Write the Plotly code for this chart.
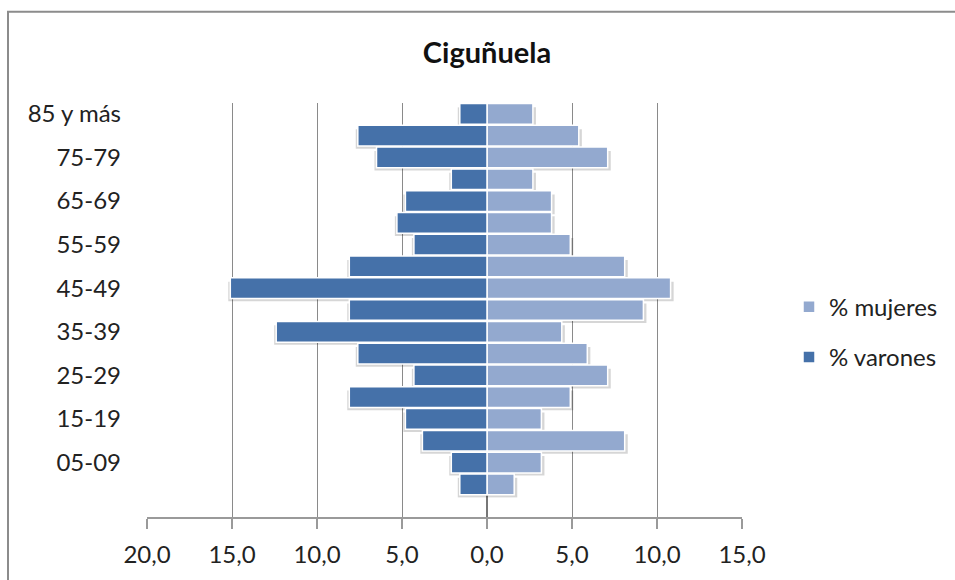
import plotly.graph_objects as go

# Age groups from youngest to oldest (first slot is blank in the source chart)
age_groups = ["", "00-04", "05-09", "10-14", "15-19", "20-24", "25-29", "30-34",
              "35-39", "40-44", "45-49", "50-54", "55-59", "60-64", "65-69",
              "70-74", "75-79", "80-84", "85 y más"]

varones = [None, 1.6, 2.1, 3.8, 4.8, 8.1, 4.3, 7.6, 12.4, 8.1, 15.1, 8.1, 4.3,
           5.3, 4.8, 2.1, 6.5, 7.6, 1.6]
mujeres = [None, 1.6, 3.2, 8.1, 3.2, 4.9, 7.1, 5.9, 4.4, 9.2, 10.8, 8.1, 4.9,
           3.8, 3.8, 2.7, 7.1, 5.4, 2.7]

x_ticks = [-20, -15, -10, -5, 0, 5, 10, 15]
x_tick_text = ["20,0", "15,0", "10,0", "5,0", "0,0", "5,0", "10,0", "15,0"]

title = "Ciguñuela"
COL_V = "#4571A9"
COL_M = "#93A9CF"
FONT = "Lato"

ypos = list(range(len(age_groups)))
neg_v = [-v if v is not None else None for v in varones]

fig = go.Figure()

# soft shadows (drawn below, slightly offset downwards / outwards)
shadow_v = [(-v - 0.12) if v is not None else None for v in varones]
shadow_m = [(m + 0.18) if m is not None else None for m in mujeres]
for sx in (shadow_v, shadow_m):
    fig.add_trace(go.Bar(
        y=ypos, x=sx, orientation="h", width=0.9, offset=-0.6,
        marker=dict(color="rgba(0,0,0,0.16)", line=dict(width=0)),
        showlegend=False, hoverinfo="skip"))

fig.add_trace(go.Bar(
    y=ypos, x=mujeres, orientation="h", name="% mujeres", width=0.95,
    marker=dict(color=COL_M, line=dict(color="white", width=1.5)),
    legendgroup="m", legendrank=1))
fig.add_trace(go.Bar(
    y=ypos, x=neg_v, orientation="h", name="% varones", width=0.95,
    marker=dict(color=COL_V, line=dict(color="white", width=1.5)),
    legendgroup="v", legendrank=2,
    customdata=varones, hovertemplate="%{customdata}<extra>% varones</extra>"))

L, R, T, B = 147, 213, 103, 60
W, H = 955, 580
pw, ph = W - L - R, H - T - B

def px_x(p):
    return (p - L) / pw

def px_y(p):
    return (H - B - p) / ph

fig.update_layout(
    width=W, height=H,
    margin=dict(l=L, r=R, t=T, b=B),
    barmode="overlay",
    paper_bgcolor="white", plot_bgcolor="white",
    font=dict(family=FONT, size=24, color="#222"),
    title=dict(text="<b>" + title + "</b>", x=px_x(487), xref="paper",
               xanchor="center", y=1 - 53 / H, yref="container",
               yanchor="middle", font=dict(size=29, color="#111", family=FONT)),
    legend=dict(x=px_x(789), xanchor="left", y=px_y(286), yanchor="top",
                font=dict(size=24, color="#222"), tracegroupgap=16,
                itemwidth=30, bgcolor="rgba(0,0,0,0)"),
    xaxis=dict(range=[-20, 15], tickvals=x_ticks, ticktext=x_tick_text,
               showgrid=True, gridcolor="#8a8a8a", gridwidth=1,
               zeroline=True, zerolinecolor="#777", zerolinewidth=1.5,
               showline=True, linecolor="#9a9a9a", linewidth=1.5,
               ticks="outside", ticklen=10, tickcolor="#9a9a9a", tickwidth=1.5,
               ticklabelstandoff=5, tickfont=dict(size=24), fixedrange=True),
    yaxis=dict(range=[-0.5, len(age_groups) - 0.5],
               tickvals=ypos[::2], ticktext=age_groups[::2],
               showgrid=False, zeroline=False, showline=False,
               ticks="", ticklabelstandoff=25, tickfont=dict(size=24),
               fixedrange=True),
    shapes=[dict(type="rect", xref="paper", yref="paper",
                 x0=px_x(8), x1=px_x(970), y0=px_y(600), y1=px_y(11),
                 line=dict(color="#8c8c8c", width=2), layer="below")],
)

fig.write_html("out.html")
